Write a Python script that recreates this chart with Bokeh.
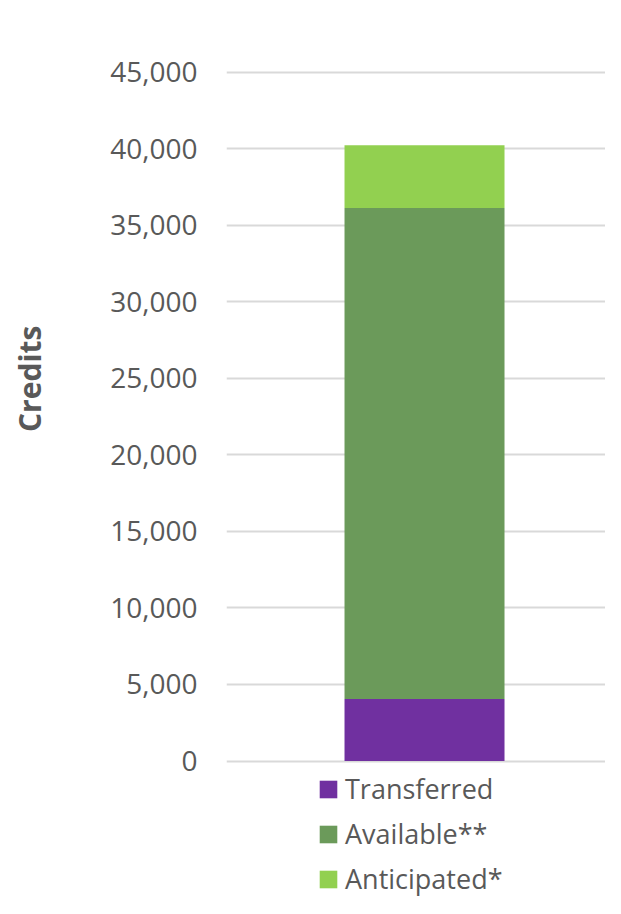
from bokeh.plotting import figure
from bokeh.models import ColumnDataSource, Range1d, FixedTicker, NumeralTickFormatter, Legend, LegendItem, Title
from bokeh.embed import file_html
from bokeh.resources import INLINE

categories = ["Credits"]
series = ["Transferred", "Available**", "Anticipated*"]
transferred = [4050]
available = [32070]
anticipated = [4100]
colors = ["#7030A0", "#6B9A5A", "#92D050"]
y_ticks = [0, 5000, 10000, 15000, 20000, 25000, 30000, 35000, 40000, 45000]

src = ColumnDataSource(dict(
    x=list(range(len(categories))),
    Transferred=transferred,
    Available=available,
    Anticipated=anticipated,
))

p = figure(width=605, height=898, output_backend="svg", toolbar_location=None,
           x_range=Range1d(-0.5, 0.457), y_range=Range1d(-8979, 45100),
           min_border_left=226, min_border_right=0, min_border_top=70, min_border_bottom=0)
p.outline_line_color = None
p.background_fill_color = "white"
p.border_fill_color = "white"

rs = p.vbar_stack(["Transferred", "Available", "Anticipated"], x="x", width=0.404,
                  source=src, color=colors, line_color=None)

p.xaxis.visible = False
p.xgrid.grid_line_color = None
p.ygrid.grid_line_color = "#D9D9D9"
p.ygrid.grid_line_width = 1.8
p.yaxis.ticker = FixedTicker(ticks=y_ticks)
p.yaxis.formatter = NumeralTickFormatter(format="0,0")
p.yaxis.axis_line_color = None
p.yaxis.major_tick_line_color = None
p.yaxis.minor_tick_line_color = None
p.yaxis.major_tick_out = 0
p.yaxis.major_tick_in = 0
p.yaxis.major_label_standoff = 29
p.yaxis.major_label_text_font = "Open Sans"
p.yaxis.major_label_text_font_size = "28px"
p.yaxis.major_label_text_color = "#595959"

# spacing panel between the tick labels and the axis title
gap = Title(text=" ", text_font_size="1px", standoff=49)
p.add_layout(gap, "left")
ytitle = Title(text="Credits", align="right", vertical_align="middle", offset=255, standoff=10,
               text_font="Open Sans", text_font_style="bold", text_font_size="30px",
               text_color="#595959")
p.add_layout(ytitle, "left")

items = [LegendItem(label=s, renderers=[r]) for s, r in zip(series, rs)]
legend = Legend(items=items, location=(91, 1), orientation="vertical",
                border_line_color=None, background_fill_alpha=0,
                padding=0, margin=0, spacing=8,
                glyph_width=22, glyph_height=22, label_standoff=6,
                label_text_font="Open Sans", label_text_font_size="27px",
                label_text_color="#595959", label_height=30)
p.add_layout(legend, "center")

open("out.html", "w").write(file_html(p, INLINE))
